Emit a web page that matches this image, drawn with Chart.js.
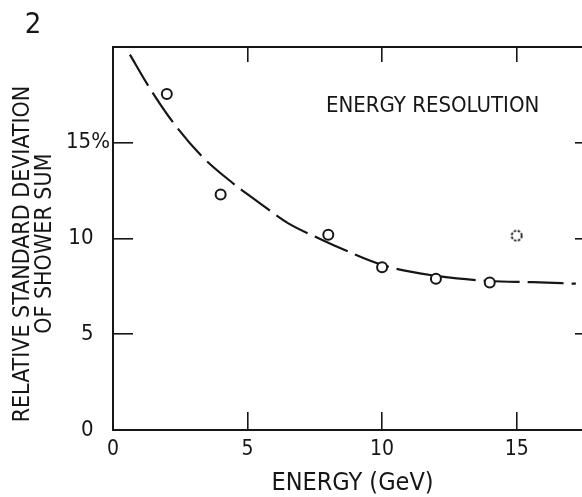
<!DOCTYPE html>
<html>
<head>
<meta charset="utf-8">
<script src="https://cdn.jsdelivr.net/npm/chart.js@4/dist/chart.umd.min.js"></script>
<style>
  html, body { margin: 0; padding: 0; background: #fff; overflow: hidden; }
  canvas { display: block; }
</style>
</head>
<body>
<canvas id="c" width="600" height="497" style="width:600px;height:497px"></canvas>
<script>
// ---- data ----
const energy = [2, 4, 8, 10, 12, 14];
const resolution = [17.55, 12.3, 10.2, 8.5, 7.9, 7.7];
const outlierEnergy = [15];
const outlierResolution = [10.15];
const fitEnergy = [0.63, 1.3, 2.24, 3.3, 4.4, 5.4, 6.5, 7.5, 8.2, 10.05, 11.9, 14.0, 15.6, 17.2];
const fitResolution = [19.6, 18.0, 16.05, 14.3, 12.95, 11.9, 10.8, 10.1, 9.65, 8.6, 8.07, 7.78, 7.72, 7.64];
const xTicks = [0, 5, 10, 15];
const yTicks = [0, 5, 10, 15];
const xTitle = 'ENERGY (GeV)';
const yTitle = ['RELATIVE STANDARD DEVIATION', 'OF SHOWER SUM'];
const panelLabel = '2';
const annotation = 'ENERGY RESOLUTION';

const INK = '#161616';
const FAMILY = '"DejaVu Sans Condensed", "Liberation Sans Narrow", "DejaVu Sans", sans-serif';

// dashed open circle used as point style for the doubtful point
const dashed = document.createElement('canvas');
dashed.width = 16; dashed.height = 16;
(function () {
  const g = dashed.getContext('2d');
  g.fillStyle = '#fff';
  g.beginPath(); g.arc(8, 8, 5, 0, Math.PI * 2); g.fill();
  g.strokeStyle = '#000'; g.lineWidth = 1.7; g.setLineDash([2.4, 1.6]);
  g.beginPath(); g.arc(8, 8, 5, 0, Math.PI * 2); g.stroke();
})();

const textPlugin = {
  id: 'texts',
  afterDraw(chart) {
    const ctx = chart.ctx;
    const xs = chart.scales.x, ys = chart.scales.y;
    ctx.save();
    ctx.fillStyle = INK;
    ctx.textBaseline = 'middle';
    ctx.textAlign = 'center';
    ctx.font = '29px ' + FAMILY;
    ctx.fillText(panelLabel, 33, 25);
    ctx.font = '22px ' + FAMILY;
    ctx.fillText(annotation, xs.getPixelForValue(11.88), ys.getPixelForValue(16.9));
    ctx.restore();
  }
};

const axisFrame = { display: true, color: INK, width: 2 };

new Chart(document.getElementById('c'), {
  type: 'scatter',
  data: {
    datasets: [
      {
        label: 'data',
        data: energy.map((e, i) => ({ x: e, y: resolution[i] })),
        pointStyle: 'circle',
        pointRadius: 5,
        pointBorderWidth: 2,
        pointBorderColor: INK,
        pointBackgroundColor: '#fff',
        order: 1
      },
      {
        label: 'doubtful',
        data: outlierEnergy.map((e, i) => ({ x: e, y: outlierResolution[i] })),
        pointStyle: dashed,
        pointRadius: 5,
        order: 1
      },
      {
        label: 'fit',
        data: fitEnergy.map((e, i) => ({ x: e, y: fitResolution[i] })),
        showLine: true,
        pointRadius: 0,
        borderColor: INK,
        borderWidth: 2.2,
        borderDash: [36, 8],
        cubicInterpolationMode: 'monotone',
        fill: false,
        order: 2
      }
    ]
  },
  options: {
    responsive: false,
    devicePixelRatio: 1,
    animation: false,
    events: [],
    layout: { padding: { top: 47, left: 0, right: 8, bottom: 0 } },
    plugins: { legend: { display: false }, tooltip: { enabled: false } },
    scales: {
      x: {
        type: 'linear', position: 'bottom', min: 0, max: 17.8,
        afterBuildTicks: s => { s.ticks = xTicks.map(v => ({ value: v })); },
        afterFit: s => { s.height = 67; },
        ticks: { color: INK, padding: 27.5, maxRotation: 0, font: { family: FAMILY, size: 21, lineHeight: 1 }, callback: v => String(v) },
        grid: { drawOnChartArea: false, drawTicks: true, tickLength: -18, color: INK, lineWidth: 1.6 },
        border: axisFrame,
        title: { display: true, text: xTitle, color: INK, font: { family: FAMILY, size: 25, lineHeight: 1 }, padding: { top: 0, bottom: 1.5 } }
      },
      x2: {
        type: 'linear', position: 'top', min: 0, max: 17.8,
        afterBuildTicks: s => { s.ticks = [5, 10, 15].map(v => ({ value: v })); },
        afterFit: s => { s.height = 0; },
        ticks: { display: false },
        grid: { drawOnChartArea: false, drawTicks: true, tickLength: -15, color: INK, lineWidth: 1.6 },
        border: axisFrame
      },
      y: {
        type: 'linear', position: 'left', min: 0, max: 20,
        afterBuildTicks: s => { s.ticks = yTicks.map(v => ({ value: v })); },
        afterFit: s => { s.width = 113; },
        ticks: {
          color: INK, padding: 23, font: { family: FAMILY, size: 22, lineHeight: 1 },
          callback: v => (v === 15 ? '15%' : String(v) + '\u2002\u2006\u2006')
        },
        grid: { drawOnChartArea: false, drawTicks: true, tickLength: -20, color: INK, lineWidth: 1.6 },
        border: axisFrame,
        title: {
          display: true,
          text: [yTitle[0] + '\u2003\u2002', yTitle[1] + '\u2002'],
          color: INK,
          font: { family: FAMILY, size: 23, lineHeight: '22px' },
          padding: { top: 12, bottom: 0 }
        }
      },
      y2: {
        type: 'linear', position: 'right', min: 0, max: 20,
        afterBuildTicks: s => { s.ticks = [5, 10, 15].map(v => ({ value: v })); },
        afterFit: s => { s.width = 0; },
        ticks: { display: false },
        grid: { drawOnChartArea: false, drawTicks: true, tickLength: -17, color: INK, lineWidth: 1.6 },
        border: axisFrame
      }
    }
  },
  plugins: [textPlugin]
});
</script>
</body>
</html>
